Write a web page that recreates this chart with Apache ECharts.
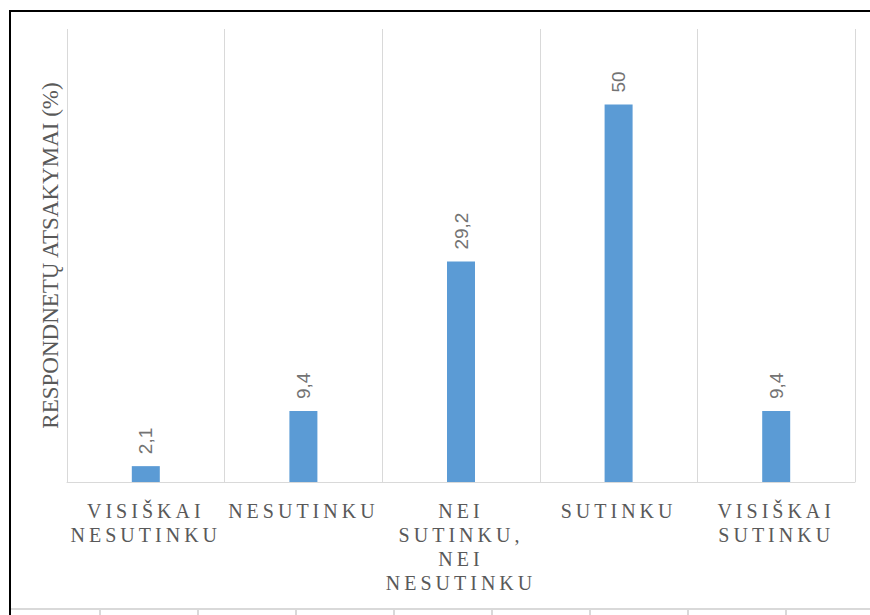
<!DOCTYPE html>
<html>
<head>
<meta charset="utf-8">
<script src="https://cdn.jsdelivr.net/npm/echarts@6/dist/echarts.min.js"></script>
<style>
  html, body { margin: 0; padding: 0; background: #fff; }
  #chart { width: 870px; height: 615px; }
</style>
</head>
<body>
<div id="chart"></div>
<script>
// atsakymu kategorijos ir procentai
const categories = [
  'VISIŠKAI\nNESUTINKU',
  'NESUTINKU',
  'NEI\nSUTINKU,\nNEI\nNESUTINKU',
  'SUTINKU',
  'VISIŠKAI\nSUTINKU'
]
const values = [2.1, 9.4, 29.2, 50, 9.4]
const yName = 'RESPONDNETŲ ATSAKYMAI (%)'

const gray = '#595959'
const gridGray = '#d9d9d9'
const serif = "'Liberation Serif', 'Times New Roman', serif"

const chart = echarts.init(document.getElementById('chart'), null, { renderer: 'svg' })

// apatine lentele (tik dekoracija)
const tableTicks = [100, 198, 296, 394, 492, 590, 688, 786].map(x => ({
  type: 'line',
  shape: { x1: x, y1: 610, x2: x, y2: 620 },
  style: { stroke: gridGray, lineWidth: 2 }
}))

chart.setOption({
  animation: false,
  grid: { left: 67, right: 15, top: 29, bottom: 133 },
  xAxis: {
    type: 'category',
    data: categories,
    axisTick: { show: false },
    axisLine: { lineStyle: { color: gridGray, width: 1 } },
    splitLine: { show: true, lineStyle: { color: gridGray, width: 1 } },
    axisLabel: {
      interval: 0,
      margin: 17,
      color: gray,
      fontFamily: serif,
      fontSize: 20,
      lineHeight: 24
    }
  },
  yAxis: {
    type: 'value',
    min: 0,
    max: 60,
    axisLabel: { show: false },
    axisTick: { show: false },
    axisLine: { show: false },
    splitLine: { show: false },
    name: yName,
    nameLocation: 'middle',
    nameGap: 5,
    nameTextStyle: {
      color: gray,
      fontFamily: serif,
      fontSize: 23
    }
  },
  series: [{
    type: 'bar',
    data: values,
    barWidth: 28,
    itemStyle: { color: '#5b9bd5' },
    label: {
      show: true,
      position: 'top',
      rotate: 90,
      align: 'left',
      verticalAlign: 'middle',
      distance: 12,
      color: '#737373',
      fontFamily: 'Liberation Sans',
      fontSize: 19,
      formatter: p => String(p.value).replace('.', ',')
    }
  }],
  graphic: [
    {
      type: 'rect',
      shape: { x: 10, y: 11, width: 900, height: 700 },
      style: { fill: 'none', stroke: '#000', lineWidth: 2 },
      silent: true
    },
    {
      type: 'line',
      shape: { x1: 11, y1: 609, x2: 870, y2: 609 },
      style: { stroke: gridGray, lineWidth: 2 }
    }
  ].concat(tableTicks)
})

// x asies uzrasams - platesnis tarpas tarp raidziu kaip originale
const labelLines = new Set(categories.join('\n').split('\n'))
function spaceLabels () {
  document.querySelectorAll('#chart text').forEach(t => {
    if (labelLines.has(t.textContent.trim())) {
      t.setAttribute('letter-spacing', '4px')
    }
  })
}
spaceLabels()
chart.on('finished', spaceLabels)
</script>
</body>
</html>
